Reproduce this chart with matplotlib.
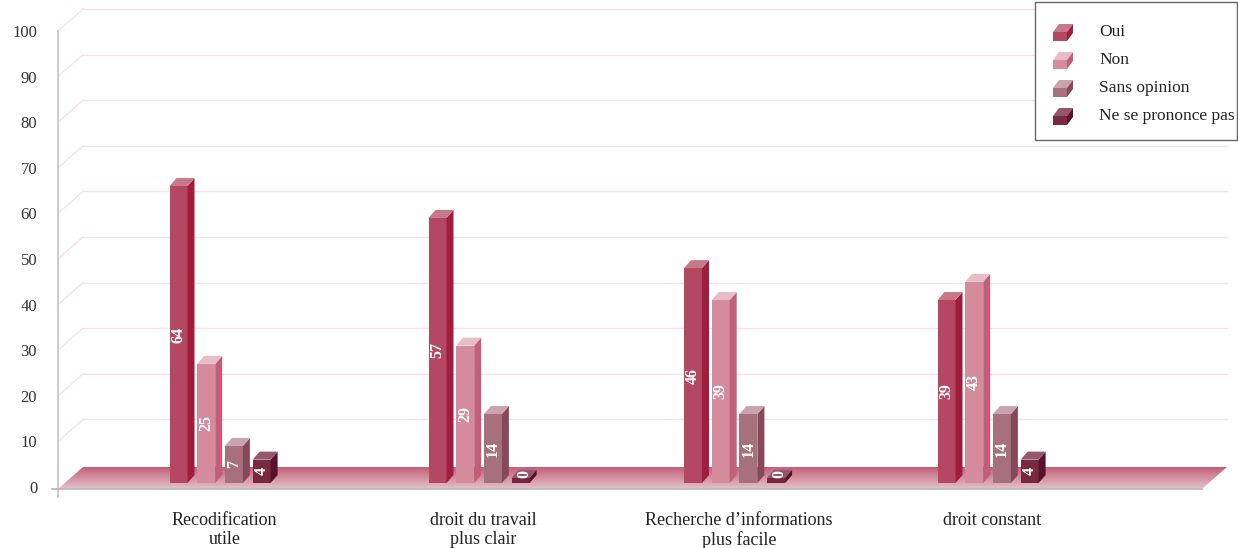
import numpy as np
import matplotlib
matplotlib.use("Agg")
import matplotlib.pyplot as plt
from matplotlib.patches import Polygon, Rectangle
from matplotlib.colors import LinearSegmentedColormap

plt.rcParams['font.family'] = ['Liberation Serif', 'DejaVu Serif']

# ---- data ----
categories = ["Recodification\nutile", "droit du travail\nplus clair",
              "Recherche d\u2019informations\nplus facile", "droit constant"]
series = ["Oui", "Non", "Sans opinion", "Ne se prononce pas"]
oui = [64, 57, 46, 39]
non = [25, 29, 39, 43]
sans_opinion = [7, 14, 14, 14]
nspp = [4, 0, 0, 4]
values = [oui, non, sans_opinion, nspp]
yticks = [0, 10, 20, 30, 40, 50, 60, 70, 80, 90, 100]

# face colours per series: (front, side, top)
face_colors = [
    ("#b44862", "#a01e3c", "#c9788c"),
    ("#d48c9d", "#c06078", "#e8bcc6"),
    ("#a6707c", "#87495a", "#c9a3ad"),
    ("#782841", "#5a1028", "#94566a"),
]

# ---- figure / scale ----
W, H, DPI = 1238, 548, 100
fig = plt.figure(figsize=(W / DPI, H / DPI), dpi=DPI)
ax = fig.add_axes([0, 0, 1, 1])

PX_X = 256.0    # pixels per category unit
X0 = 223.0      # pixel x of first category centre
PX_Y = 4.56     # pixels per percent
Y0 = 487.0      # pixel y of value 0 on the front plane

def ux(px):
    return (px - X0) / PX_X

def uy(py):
    return (Y0 - py) / PX_Y

ax.set_xlim(ux(0), ux(W))
ax.set_ylim(uy(H), uy(0))
for s in ("top", "right", "bottom"):
    ax.spines[s].set_visible(False)
ax.set_xticks([])

# wall depth offsets
wdx = 25 / PX_X
wdy = 22 / PX_Y
x_left = ux(58)
x_right_front = ux(1202)
x_right_back = x_right_front + wdx

# y axis
ax.spines["left"].set_position(("data", x_left))
ax.spines["left"].set_bounds(uy(497), 100)
ax.spines["left"].set_color("#c4c4c4")
ax.spines["left"].set_linewidth(1.2)
ax.set_yticks(yticks)
ax.tick_params(axis="y", length=0, pad=15, labelsize=12, labelcolor="#333333")

# back wall grid lines with diagonal connectors to the axis
grid_c = "#f6e2e8"
for t in yticks[1:]:
    ax.plot([x_left + wdx, x_right_back], [t + wdy, t + wdy], color=grid_c, lw=1.0, zorder=1)
    ax.plot([x_left, x_left + wdx], [t, t + wdy], color=grid_c, lw=1.0, zorder=1)

# floor slab with gradient
fl_front = uy(489)
fl_back = uy(467)
floor_pts = [(x_left, fl_front), (x_right_front, fl_front),
             (x_right_front + wdx, fl_back), (x_left + wdx, fl_back)]
floor_poly = Polygon(floor_pts, closed=True, facecolor="none", edgecolor="none", zorder=2)
ax.add_patch(floor_poly)
cmap = LinearSegmentedColormap.from_list("floor", ["#e3c3cb", "#c45f79"])
grad = np.linspace(0, 1, 64).reshape(-1, 1)
im = ax.imshow(grad, cmap=cmap, aspect="auto", origin="lower",
               extent=[x_left, x_right_front + wdx, fl_front, fl_back], zorder=2)
im.set_clip_path(floor_poly)
ax.plot([ux(52), x_right_front], [fl_front, fl_front], color="#b8b8b8", lw=1.2, zorder=3)

# bars
bw = 18 / PX_X
pitch = 27.7 / PX_X
bdx = 7 / PX_X
bdy = 8 / PX_Y
base = uy(483)
lift = 2.0
group_shift = [-1.5, 1.5, 1.0, -1.5]
for gi in range(len(categories)):
    gx = gi + group_shift[gi] / PX_X
    for si, vals in enumerate(values):
        v = vals[gi]
        front, side, top = face_colors[si]
        x0 = gx - 52 / PX_X + si * pitch
        x1 = x0 + bw
        y1 = lift + v
        ax.add_patch(Rectangle((x0, base), bw, y1 - base, facecolor=front,
                               edgecolor="none", zorder=4))
        ax.add_patch(Polygon([(x1, base), (x1 + bdx, base + bdy), (x1 + bdx, y1 + bdy), (x1, y1)],
                             closed=True, facecolor=side, edgecolor="none", zorder=4))
        ax.add_patch(Polygon([(x0, y1), (x1, y1), (x1 + bdx, y1 + bdy), (x0 + bdx, y1 + bdy)],
                             closed=True, facecolor=top, edgecolor="none", zorder=4))
        if v > 0:
            ly = (base + y1) / 2
            lx = (x0 + x1) / 2
        else:
            ly = y1 + bdy / 2
            lx = (x0 + x1 + bdx) / 2
        ax.text(lx, ly, str(v), rotation=90, ha="center", va="center",
                color="white", fontsize=11.5, fontweight="bold", zorder=5)
    ax.text(gi + group_shift[gi] / PX_X + 3 / PX_X, uy(512), categories[gi],
            ha="center", va="top", fontsize=13, color="#222222",
            linespacing=1.12, zorder=5)

# legend
lax = fig.add_axes([0, 0, 1, 1], facecolor="none")
lax.set_xlim(0, W)
lax.set_ylim(H, 0)
lax.axis("off")
lax.add_patch(Rectangle((1035, 2), 202, 138, facecolor="white", edgecolor="#666666", lw=1.0))
row_y = [33, 61, 89, 117]
for si, name in enumerate(series):
    front, side, top = face_colors[si]
    fy0 = row_y[si] - 1
    fy1 = fy0 + 9
    fx0, fx1 = 1053, 1067
    ddx, ddy = 6, 8
    lax.add_patch(Rectangle((fx0, fy0), fx1 - fx0, fy1 - fy0, facecolor=front, edgecolor="none"))
    lax.add_patch(Polygon([(fx0, fy0), (fx1, fy0), (fx1 + ddx, fy0 - ddy), (fx0 + ddx, fy0 - ddy)],
                          closed=True, facecolor=top, edgecolor="none"))
    lax.add_patch(Polygon([(fx1, fy0), (fx1 + ddx, fy0 - ddy), (fx1 + ddx, fy1 - ddy), (fx1, fy1)],
                          closed=True, facecolor=side, edgecolor="none"))
    lax.text(1099, row_y[si] - 1, name, ha="left", va="center", fontsize=12.5, color="#222222")

fig.savefig("out.png", dpi=DPI)
